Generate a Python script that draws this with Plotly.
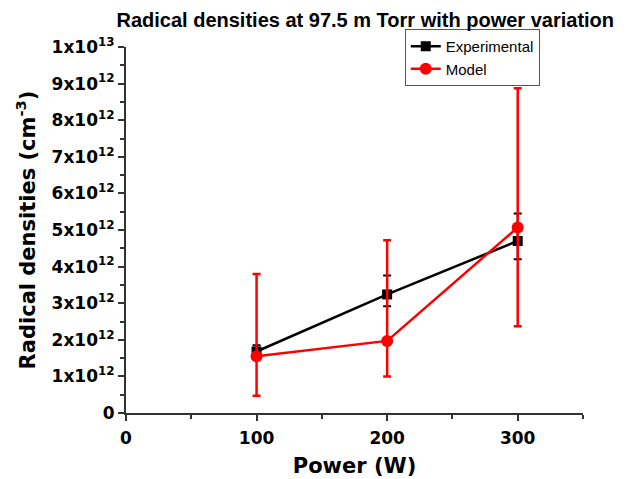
import plotly.graph_objects as go

power = [100, 200, 300]
exp_vals = [1.68e12, 3.24e12, 4.70e12]
exp_err_plus = [0.17e12, 0.52e12, 0.75e12]
exp_err_minus = [0.17e12, 0.32e12, 0.50e12]
model_vals = [1.55e12, 1.97e12, 5.07e12]
model_err_plus = [2.25e12, 2.75e12, 3.80e12]
model_err_minus = [1.08e12, 0.97e12, 2.70e12]

y_tickvals = [i * 1e12 for i in range(11)]
y_ticktext = ["0"] + [f"{i}x10<sup>12</sup>" for i in range(1, 10)] + ["1x10<sup>13</sup>"]
x_tickvals = [0, 100, 200, 300]

TICKFONT = "DejaVu Sans, sans-serif"

fig = go.Figure()
fig.add_trace(go.Scatter(
    x=power, y=exp_vals, name="Experimental", mode="lines+markers",
    line=dict(color="black", width=2.5),
    marker=dict(symbol="square", size=10, color="black"),
    error_y=dict(type="data", symmetric=False, array=exp_err_plus, arrayminus=exp_err_minus,
                 color="black", thickness=2, width=4),
))
fig.add_trace(go.Scatter(
    x=power, y=model_vals, name="Model", mode="lines+markers",
    line=dict(color="red", width=2.5),
    marker=dict(symbol="circle", size=12, color="red"),
    error_y=dict(type="data", symmetric=False, array=model_err_plus, arrayminus=model_err_minus,
                 color="red", thickness=2.5, width=4),
))

fig.update_layout(
    template="none",
    width=629, height=479,
    paper_bgcolor="white", plot_bgcolor="white",
    margin=dict(l=118, r=54, t=39, b=74, autoexpand=False),
    font=dict(family="Liberation Sans, Arial, sans-serif", color="black"),
    title=dict(text="<b>Radical densities at 97.5 m Torr with power variation</b>",
               x=0.568, xanchor="center", y=0.975, yanchor="middle",
               font=dict(size=20, color="black")),
    showlegend=True,
    legend=dict(x=0.61, y=1.049, xanchor="left", yanchor="top",
                bgcolor="white", bordercolor="#555", borderwidth=1,
                font=dict(size=15, color="black"),
                tracegroupgap=0, itemwidth=30, entrywidth=108, entrywidthmode="pixels"),
    xaxis=dict(
        range=[0, 350], tickvals=x_tickvals, ticktext=[f"<b>{v}</b>" for v in x_tickvals],
        showgrid=False, zeroline=False, showline=True, linecolor="#333", linewidth=2,
        ticks="outside", ticklen=6, tickwidth=2, tickcolor="#333",
        minor=dict(dtick=50, ticks="outside", ticklen=4, tickwidth=1.5, tickcolor="#333"),
        tickfont=dict(size=17, color="black", family=TICKFONT),
        ticklabelstandoff=3, automargin=False,
        title=dict(text="<b>Power (W)</b>", font=dict(size=21, color="black", family=TICKFONT), standoff=11),
    ),
    yaxis=dict(
        range=[0, 1e13], tickvals=y_tickvals, ticktext=[f"<b>{t}</b>" for t in y_ticktext],
        showgrid=False, zeroline=False, showline=True, linecolor="#333", linewidth=2,
        ticks="outside", ticklen=6, tickwidth=2, tickcolor="#333",
        minor=dict(dtick=0.5e12, ticks="outside", ticklen=4, tickwidth=1.5, tickcolor="#333"),
        tickfont=dict(size=17, color="black", family=TICKFONT),
        automargin=False,
        title=dict(text="<b>Radical densities (cm<sup>-3</sup>)</b>", font=dict(size=21, color="black", family=TICKFONT), standoff=10),
    ),
)

fig.write_html("out.html")
